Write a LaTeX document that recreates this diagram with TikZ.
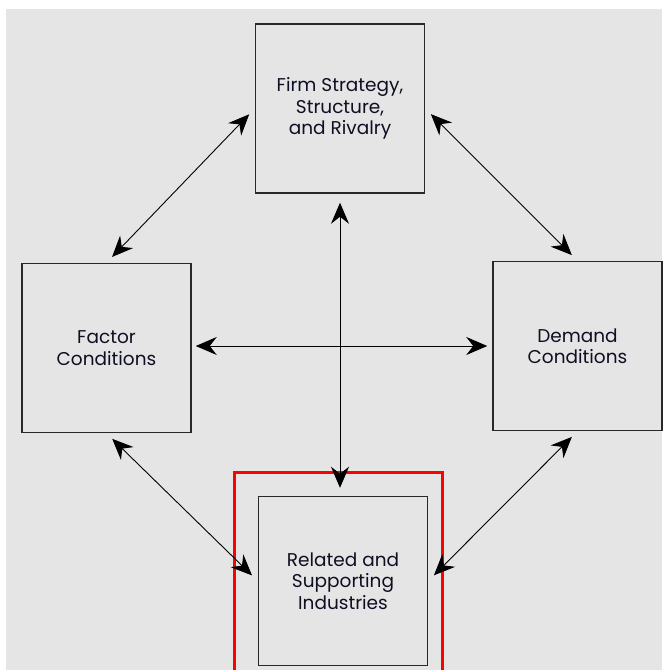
\documentclass[tikz,border=0pt]{standalone}
\usepackage{fontspec}
\setmainfont{Poppins}
\usepackage{tikz}
\usetikzlibrary{positioning}
\usetikzlibrary{arrows.meta}

\definecolor{bggray}{RGB}{229,229,229}
\definecolor{boxline}{RGB}{40,40,40}
\definecolor{txt}{RGB}{15,15,35}

\begin{document}
\begin{tikzpicture}[x=1pt,y=-1pt,
  box/.style={draw=boxline,line width=1.5pt,minimum width=169pt,minimum height=169pt,
    inner sep=0pt,align=center,text=txt,font=\fontsize{18.5}{21.5}\selectfont},
  link/.style={{Stealth[length=21pt,width=18pt,inset=7pt]}-{Stealth[length=21pt,width=18pt,inset=7pt]},line width=0.9pt}]
\useasboundingbox (0,0) rectangle (662,670);
\fill[bggray] (6,9) rectangle (662,670);
\node[box] (firm) at (340,108.5) {Firm Strategy,\\Structure,\\and Rivalry};
\node[box,below left=69pt and 63pt of firm] (factor) {Factor\\Conditions};
\node[box,below right=67pt and 67pt of firm] (demand) {Demand\\Conditions};
\node[box,below=302pt of firm,xshift=3pt] (related) {Related and\\Supporting\\Industries};
% highlight round the bottom box
\draw[red,line width=3pt] (234,672) -- (234,472) -- (442,472) -- (442,672);
\draw[shorten >=8pt,shorten <=8pt]
      (factor.north) edge[link] (firm.west)
      (firm.east) edge[link] (demand.north)
      (factor.south) edge[link] (related.west)
      (demand.south) edge[link] (related.east);
\draw (firm.south) edge[link,shorten <=9pt,shorten >=8pt] (firm.south |- related.north)
      (factor.east |- demand.west) edge[link,shorten <=4pt,shorten >=5pt] (demand.west);
\end{tikzpicture}
\end{document}
